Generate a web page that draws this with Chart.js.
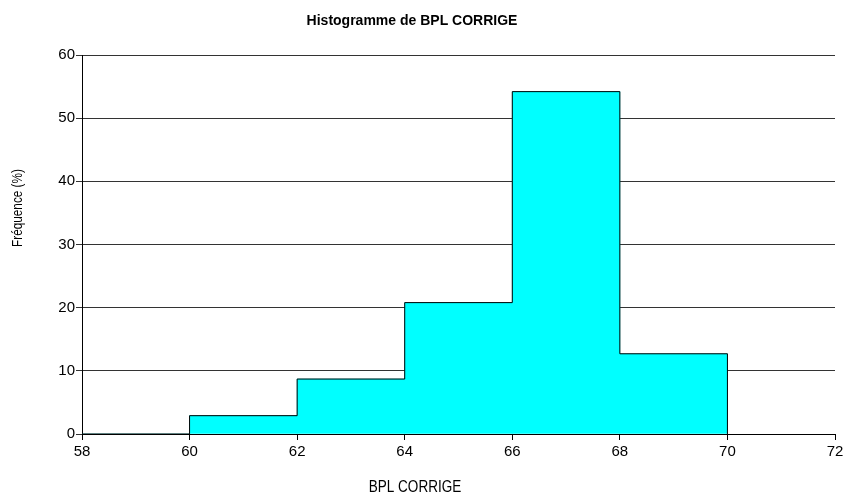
<!DOCTYPE html>
<html><head><meta charset="utf-8">
<script src="https://cdn.jsdelivr.net/npm/chart.js@4/dist/chart.umd.min.js"></script>
<style>html,body{margin:0;padding:0;background:#fff;}#wrap{width:845px;height:495px;position:relative;}</style>
</head><body><div id="wrap"><canvas id="c" width="845" height="495"></canvas></div>
<script>
const chartTitle = 'Histogramme de BPL CORRIGE';
const xTitle = 'BPL CORRIGE';
const yTitle = 'Fréquence (%)';
const binStart = [58, 60, 62, 64, 66, 68];
const binWidth = 2;
const frequency = [0, 2.9, 8.7, 20.8, 54.2, 12.7];
const xTicks = [58, 60, 62, 64, 66, 68, 70, 72];
const yTicks = [0, 10, 20, 30, 40, 50, 60];

const REG = "'Liberation Sans', Arial, sans-serif";

const barData = binStart.map((s, i) => ({x: s + binWidth / 2, y: frequency[i]}));
const outline = [{x: binStart[0], y: 0}];
binStart.forEach((s, i) => outline.push({x: s + binWidth, y: frequency[i]}));
outline.push({x: binStart[binStart.length - 1] + binWidth, y: 0});

const textPlugin = {
  id: 'texts',
  afterDraw(chart) {
    const ctx = chart.ctx;
    ctx.save();
    ctx.fillStyle = '#000';
    ctx.textAlign = 'center';
    ctx.textBaseline = 'middle';
    ctx.font = "bold 14px " + REG;
    ctx.fillText(chartTitle, 412, 21);
    ctx.save();
    ctx.translate(415, 487);
    ctx.scale(0.82, 1);
    ctx.font = "16.5px " + REG;
    ctx.fillText(xTitle, 0, 0);
    ctx.restore();
    ctx.translate(18, 208);
    ctx.rotate(-Math.PI / 2);
    ctx.scale(0.84, 1);
    ctx.font = "14px " + REG;
    ctx.fillText(yTitle, 0, 0);
    ctx.restore();
  }
};

new Chart(document.getElementById('c'), {
  data: {
    datasets: [
      {type: 'line', data: outline, stepped: 'after', borderColor: '#000', borderWidth: 1,
       pointRadius: 0, fill: false, tension: 0},
      {type: 'bar', data: barData, backgroundColor: '#00FFFF', borderWidth: 0,
       barPercentage: 1, categoryPercentage: 1}
    ]
  },
  options: {
    responsive: false,
    animation: false,
    events: [],
    layout: {padding: {top: 55, right: 10, left: 0, bottom: 0}},
    plugins: {legend: {display: false}, title: {display: false}, tooltip: {enabled: false}},
    scales: {
      x: {
        type: 'linear', min: 58, max: 72, offset: false,
        afterBuildTicks: (s) => { s.ticks = xTicks.map(v => ({value: v})); },
        afterFit: (s) => { s.height = 61; s.paddingLeft = 0; s.paddingRight = 0; },
        grid: {drawOnChartArea: false, drawTicks: true, tickLength: 6, color: '#000', offset: false},
        border: {color: '#000', width: 1},
        ticks: {color: '#000', font: {family: REG, size: 15}, padding: 3, maxRotation: 0}
      },
      y: {
        min: 0, max: 60,
        afterBuildTicks: (s) => { s.ticks = yTicks.map(v => ({value: v})); },
        afterFit: (s) => { s.width = 82; },
        grid: {color: '#333', lineWidth: 1, tickLength: 6},
        border: {color: '#000', width: 1},
        ticks: {color: '#000', font: {family: REG, size: 15}, padding: 1}
      }
    }
  },
  plugins: [textPlugin]
});
</script></body></html>
